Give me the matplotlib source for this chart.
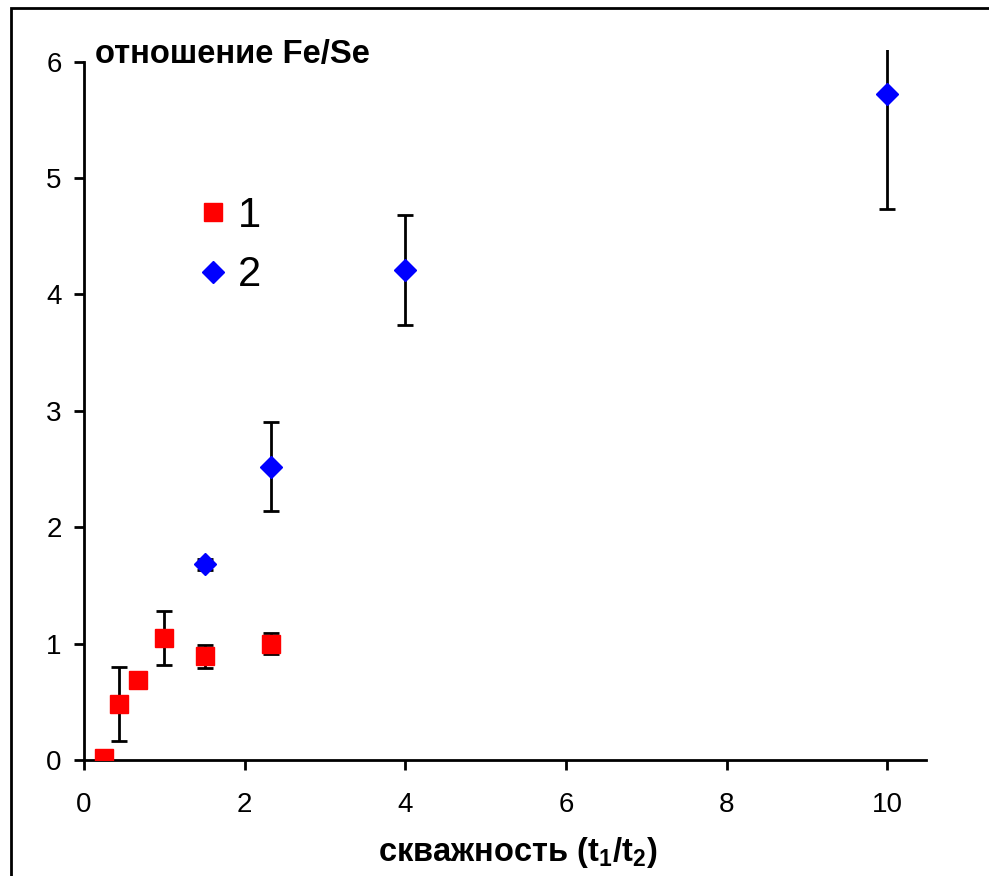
import numpy as np
import matplotlib.pyplot as plt
from matplotlib.patches import Rectangle

plt.rcParams['font.family'] = ['Liberation Sans', 'DejaVu Sans']
plt.rcParams['mathtext.fontset'] = 'custom'
plt.rcParams['mathtext.rm'] = 'Liberation Sans:bold'
plt.rcParams['mathtext.it'] = 'Liberation Sans:bold'
plt.rcParams['mathtext.bf'] = 'Liberation Sans:bold'

# series 1: Fe/Se ratio vs duty cycle
x1 = [0.25, 0.43, 0.67, 1.0, 1.5, 2.33]
y1 = [0.02, 0.48, 0.69, 1.05, 0.89, 1.0]
e1 = [0.0, 0.32, 0.0, 0.23, 0.10, 0.09]

# series 2
x2 = [1.5, 2.33, 4.0, 10.0]
y2 = [1.68, 2.52, 4.21, 5.72]
e2 = [0.05, 0.38, 0.475, 0.99]

xticks = [0, 2, 4, 6, 8, 10]
yticks = [0, 1, 2, 3, 4, 5, 6]

fig = plt.figure(figsize=(9.89, 8.76), dpi=100)
ax = fig.add_axes([84 / 989, 1 - 760 / 876, (926 - 84) / 989, (760 - 50) / 876])

ax.errorbar(x1, y1, yerr=e1, fmt='none', ecolor='black', elinewidth=2, capsize=6, capthick=2, zorder=2)
ax.errorbar(x2, y2, yerr=e2, fmt='none', ecolor='black', elinewidth=2, capsize=6, capthick=2, zorder=2)
ax.plot(x1, y1, 's', color='#ff0000', markersize=13, linestyle='none', label='1', zorder=3)
ax.plot(x2, y2, 'D', color='#0000ff', markersize=11.5, linestyle='none', label='2', zorder=3)

ax.set_xlim(0, 10.48)
ax.set_ylim(0, 6.1)
ax.set_xticks(xticks)
ax.set_yticks(yticks)
ax.spines['top'].set_visible(False)
ax.spines['right'].set_visible(False)
ax.spines['left'].set_bounds(0, 6)
for s in ('left', 'bottom'):
    ax.spines[s].set_linewidth(2)
ax.tick_params(direction='out', length=7, width=2, labelsize=20, pad=9)
ax.tick_params(axis='x', pad=16)

ax.set_xlabel('скважность (t$_1$/t$_2$)', fontsize=23.5, fontweight='bold')
ax.xaxis.set_label_coords((518 - 84) / 842, -0.105)
ax.text(0.14, 6.06, 'отношение Fe/Se', fontsize=23.6, fontweight='bold', va='center', ha='left')

leg = ax.legend(loc='upper left', bbox_to_anchor=(0.128, 0.795), frameon=False, fontsize=30,
                borderpad=0, borderaxespad=0, handletextpad=0.1, labelspacing=0.47,
                handlelength=1.0, markerscale=1.0)

# outer frame around the whole chart
fig.patches.append(Rectangle((11 / 989, -0.1), 1.2, 1 - 8 / 876 + 0.1, transform=fig.transFigure,
                             fill=False, edgecolor='black', linewidth=2))

fig.savefig('out.png', dpi=100)
